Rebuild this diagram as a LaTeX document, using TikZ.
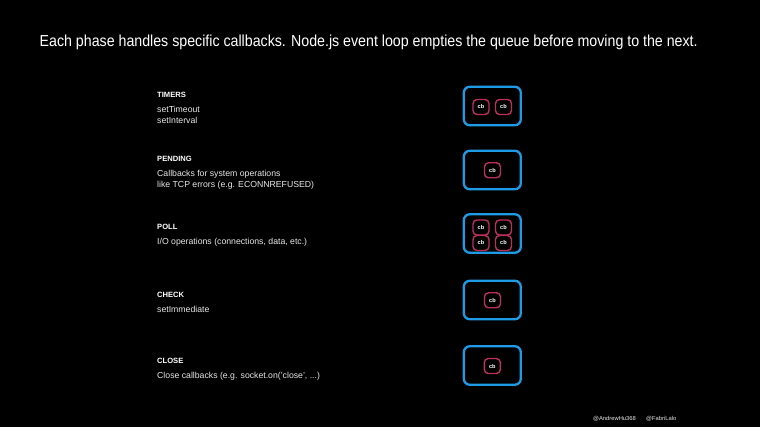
\documentclass[tikz,border=0pt]{standalone}
\usepackage{fontspec}
\setmainfont{Liberation Sans}
\definecolor{cblue}{RGB}{30,155,228}
\definecolor{cbred}{RGB}{190,48,92}
\definecolor{txt}{RGB}{232,232,232}
\begin{document}
\begin{tikzpicture}[x=1pt,y=-1pt,
  phase/.style={draw=cblue, line width=2.3pt, rounded corners=6pt, minimum width=57pt, minimum height=38.5pt, inner sep=0pt},
  cbbox/.style={draw=cbred, line width=1.4pt, rounded corners=4pt, minimum width=16pt, minimum height=15pt, inner sep=0pt, text=white, font=\bfseries\fontsize{5.6}{6}\selectfont},
  head/.style={anchor=base west, inner sep=0pt, text=white, font=\bfseries\fontsize{7.6}{9}\selectfont},
  desc/.style={anchor=base west, inner sep=0pt, text=txt, font=\fontsize{8.7}{11}\selectfont},
  foot/.style={anchor=base west, inner sep=0pt, text=txt, font=\fontsize{5.8}{6}\selectfont}]
\fill[black] (0,0) rectangle (760,427);
\useasboundingbox (0,0) rectangle (760,427);
\node[anchor=base west, inner sep=0pt, text=white, font=\fontsize{15.9}{19}\selectfont] (title) at (39.5,46.7)
  {\scalebox{0.893}[1]{Each phase handles specific callbacks. Node.js event loop empties the queue before moving to the next.}};

% TIMERS
\node[head] (h1) at (157,97.3) {TIMERS};
\node[desc] (d1a) at (157,112.3) {setTimeout};
\node[desc] (d1b) at (157,123.3) {setInterval};
\node[phase] (p1) at (492.3,106) {};
\node[cbbox] (c1a) at (481,107) {cb};
\node[cbbox] (c1b) at (503.5,107) {cb};

% PENDING
\node[head] (h2) at (157,161.3) {PENDING};
\node[desc] (d2a) at (157,177) {Callbacks for system operations};
\node[desc] (d2b) at (157,188) {like TCP errors (e.g. ECONNREFUSED)};
\node[phase] (p2) at (492.3,170) {};
\node[cbbox] (c2) at (492.5,170.3) {cb};

% POLL
\node[head] (h3) at (157,229.7) {POLL};
\node[desc] (d3) at (157,244.3) {I/O operations (connections, data, etc.)};
\node[phase] (p3) at (492.3,233.5) {};
\node[cbbox] (c3a) at (481,227.5) {cb};
\node[cbbox] (c3b) at (503.5,227.5) {cb};
\node[cbbox] (c3c) at (481,243) {cb};
\node[cbbox] (c3d) at (503.5,243) {cb};

% CHECK
\node[head] (h4) at (157,297.7) {CHECK};
\node[desc] (d4) at (157,312.5) {setImmediate};
\node[phase] (p4) at (492.3,300) {};
\node[cbbox] (c4) at (492.5,300.3) {cb};

% CLOSE
\node[head] (h5) at (157,363.7) {CLOSE};
\node[desc] (d5) at (157,378.5) {Close callbacks (e.g. socket.on('close', ...)};
\node[phase] (p5) at (492.3,365.5) {};
\node[cbbox] (c5) at (492.3,366) {cb};

% footer
\node[foot] (f1) at (593,420) {@AndrewHu368};
\node[foot] (f2) at (646,420) {@FabriLalo};
\end{tikzpicture}
\end{document}
